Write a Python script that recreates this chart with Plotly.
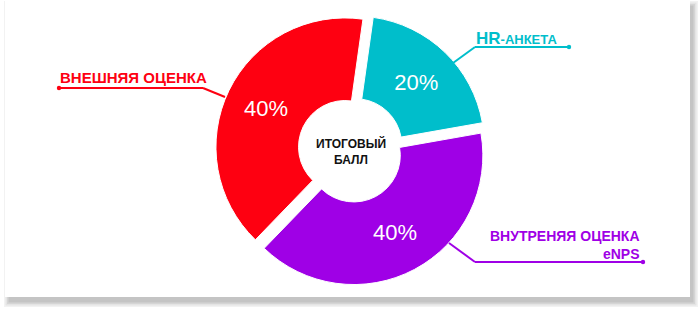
import plotly.graph_objects as go

labels = ["HR-АНКЕТА", "ВНУТРЕНЯЯ ОЦЕНКА eNPS", "ВНЕШНЯЯ ОЦЕНКА"]
values = [20, 40, 40]
colors = ["#00BECB", "#9F00E6", "#FE0011"]
center_text = "ИТОГОВЫЙ<br>БАЛЛ"

W, H = 700, 310
def px(x):
    return x / W
def py(y):
    return 1 - y / H

cx, cy, half = 350.8, 149.8, 135.5

fig = go.Figure(go.Pie(
    labels=labels, values=values, sort=False, direction="clockwise", rotation=8,
    hole=0.36, pull=[0.05, 0.05, 0.05],
    marker=dict(colors=colors, line=dict(color="white", width=1)),
    textinfo="percent", textposition="inside", insidetextorientation="horizontal",
    insidetextfont=dict(color="white", size=22, family="Liberation Sans"),
    hoverinfo="label+percent", showlegend=False,
    domain=dict(x=[px(cx - half), px(cx + half)], y=[py(cy + half), py(cy - half)]),
))

shapes = []
# shadow layers
for i, op in enumerate([0.10, 0.12, 0.15, 0.2]):
    d = i * 1.5
    shapes.append(dict(type="rect", xref="paper", yref="paper",
                       x0=px(4 + d), x1=px(698 - d), y0=py(1 + d), y1=py(307 - d),
                       fillcolor="#808080", opacity=op, line=dict(width=0), layer="below"))
shapes.append(dict(type="rect", xref="paper", yref="paper",
                   x0=px(5), x1=px(690), y0=py(0), y1=py(297),
                   fillcolor="white", line=dict(width=0), layer="below"))

def leader(pts, color, dot):
    for (x0, y0), (x1, y1) in zip(pts[:-1], pts[1:]):
        shapes.append(dict(type="line", xref="paper", yref="paper",
                           x0=px(x0), y0=py(y0), x1=px(x1), y1=py(y1),
                           line=dict(color=color, width=2)))
    x, y = dot
    shapes.append(dict(type="circle", xref="paper", yref="paper",
                       x0=px(x - 2.2), x1=px(x + 2.2), y0=py(y + 2.2), y1=py(y - 2.2),
                       fillcolor=color, line=dict(width=0)))

leader([(225, 97), (203, 88), (59, 88)], colors[2], (59, 88))
leader([(453, 63), (475, 47), (569, 47)], colors[0], (569, 47))
leader([(449, 243), (475, 262), (643, 262)], colors[1], (643, 262))

annotations = [
    dict(text="ВНЕШНЯЯ ОЦЕНКА", x=px(58), y=py(78), xref="paper", yref="paper",
         xanchor="left", yanchor="middle", showarrow=False,
         font=dict(color=colors[2], size=15, family="Liberation Sans"), ),
    dict(text="<b>HR</b><span style='font-size:13px'><b>-АНКЕТА</b></span>", x=px(474), y=py(39),
         xref="paper", yref="paper", xanchor="left", yanchor="middle", showarrow=False,
         font=dict(color=colors[0], size=17, family="Liberation Sans")),
    dict(text="<b>ВНУТРЕНЯЯ ОЦЕНКА</b><br><b>eNPS</b>", x=px(642), y=py(245),
         xref="paper", yref="paper", xanchor="right", yanchor="middle", align="right",
         showarrow=False, font=dict(color=colors[1], size=14, family="Liberation Sans")),
    dict(text="<b>" + center_text.replace("<br>", "</b><br><b>") + "</b>", x=px(cx), y=py(cy + 2),
         xref="paper", yref="paper", xanchor="center", yanchor="middle",
         showarrow=False, font=dict(color="#111111", size=12, family="Liberation Sans")),
]
annotations[0]["text"] = "<b>ВНЕШНЯЯ ОЦЕНКА</b>"

fig.update_layout(width=W, height=H, margin=dict(l=0, r=0, t=0, b=0),
                  paper_bgcolor="white", plot_bgcolor="white",
                  shapes=shapes, annotations=annotations)
fig.write_html("out.html")
